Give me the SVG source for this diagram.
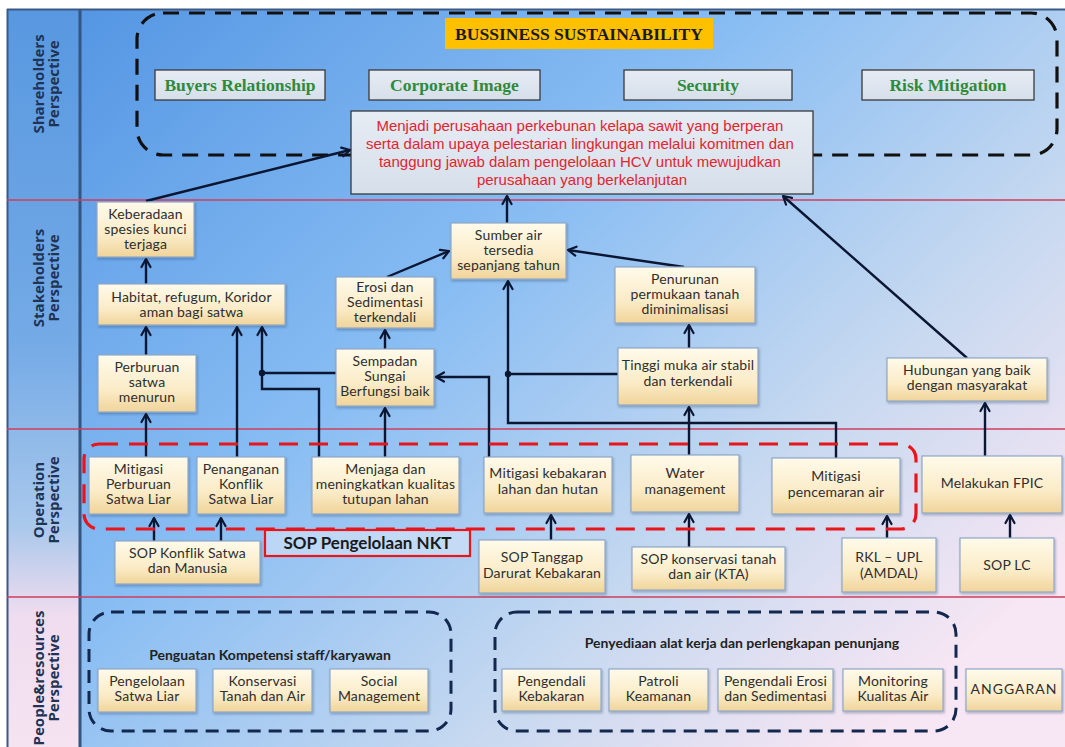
<svg xmlns="http://www.w3.org/2000/svg" width="1065" height="747" viewBox="0 0 1065 747">
<defs>
<linearGradient id="bg" x1="0" y1="0" x2="1" y2="0.75">
<stop offset="0" stop-color="#4f92e2"/>
<stop offset="0.45" stop-color="#88bdf3"/>
<stop offset="0.75" stop-color="#c5d8f0"/>
<stop offset="1" stop-color="#f7e6f3"/>
</linearGradient>
<linearGradient id="lab" x1="0" y1="0" x2="0" y2="1">
<stop offset="0" stop-color="#5898e0"/>
<stop offset="0.45" stop-color="#74aae6"/>
<stop offset="0.7" stop-color="#a9c8ec"/>
<stop offset="0.82" stop-color="#efdcef"/>
<stop offset="1" stop-color="#f5e3f1"/>
</linearGradient>
<linearGradient id="cream" x1="0" y1="0" x2="0" y2="1">
<stop offset="0" stop-color="#fffaea"/>
<stop offset="0.6" stop-color="#fbecc8"/>
<stop offset="1" stop-color="#f0d49a"/>
</linearGradient>
<linearGradient id="grey" x1="0" y1="0" x2="0" y2="1">
<stop offset="0" stop-color="#e6ecf4"/>
<stop offset="1" stop-color="#d6dfea"/>
</linearGradient>
<filter id="sh" x="-10%" y="-10%" width="130%" height="140%">
<feDropShadow dx="1" dy="1.5" stdDeviation="1.2" flood-color="#203050" flood-opacity="0.35"/>
</filter>
<marker id="ar" markerWidth="12" markerHeight="12" refX="9" refY="5" orient="auto" markerUnits="userSpaceOnUse" viewBox="0 0 12 12" overflow="visible">
<path d="M1,0.5 L9,5 L1,9.5" fill="none" stroke="#0b1633" stroke-width="2.2" stroke-linecap="round" stroke-linejoin="round"/>
</marker>
<style>
.rowlab{font-family:"Open Sans","DejaVu Sans",sans-serif;font-weight:bold;font-size:15px;fill:#1f3355;text-anchor:middle}
.node rect{fill:url(#cream);stroke:#8fa8c8;stroke-width:1.2;filter:url(#sh)}
.node text{font-family:Lato,"Open Sans",sans-serif;font-size:14px;letter-spacing:0.15px;fill:#2e2e2e;text-anchor:middle}
.gbox rect{fill:url(#grey);stroke:#3a3a3a;stroke-width:1.3}
.gbox text{font-family:"Liberation Serif","DejaVu Serif",serif;font-weight:bold;font-size:17.5px;fill:#2f8a3a;text-anchor:middle}
.conn path{fill:none;stroke:#0b1633;stroke-width:2.4;stroke-linejoin:miter}
.arr{marker-end:url(#ar)}
.sep{stroke:#cf3e5e;stroke-width:1.6}
.glab{font-family:Lato,"Open Sans",sans-serif;font-size:14px;font-weight:bold;fill:#222;text-anchor:middle}
.bdash{fill:none;stroke:#13284f;stroke-width:3;stroke-dasharray:13 8}
</style>
</defs>

<rect x="0" y="0" width="1065" height="747" fill="#ffffff"/>
<rect x="7" y="9" width="1058" height="738" fill="url(#bg)"/>
<rect x="7" y="9" width="73" height="738" fill="url(#lab)"/>
<line x1="7" y1="9.5" x2="1065" y2="9.5" stroke="#3a5a85" stroke-width="2"/>
<line x1="7.5" y1="9" x2="7.5" y2="747" stroke="#3a5a85" stroke-width="2"/>
<line x1="80" y1="9" x2="80" y2="747" stroke="#34557f" stroke-width="3"/>
<line class="sep" x1="7" y1="200" x2="1065" y2="200"/>
<line class="sep" x1="7" y1="429" x2="1065" y2="429"/>
<line class="sep" x1="7" y1="597" x2="1065" y2="597"/>

<g id="row-labels">
<text class="rowlab" transform="translate(44,84) rotate(-90)">Shareholders</text>
<text class="rowlab" transform="translate(59,84) rotate(-90)">Perspective</text>
<text class="rowlab" transform="translate(44,278) rotate(-90)">Stakeholders</text>
<text class="rowlab" transform="translate(59,278) rotate(-90)">Perspective</text>
<text class="rowlab" transform="translate(44,500) rotate(-90)">Operation</text>
<text class="rowlab" transform="translate(59,500) rotate(-90)">Perspective</text>
<text class="rowlab" transform="translate(44,678) rotate(-90)">People&amp;resources</text>
<text class="rowlab" transform="translate(59,678) rotate(-90)">Perspective</text>
</g>

<g id="group-sustainability">
<rect x="137" y="13" width="920" height="142" rx="26" fill="none" stroke="#111" stroke-width="3.2" stroke-dasharray="16 10"/>
<rect x="445" y="18" width="268" height="31" fill="#ffc000"/>
<text x="579" y="40" font-family="Liberation Serif,DejaVu Serif,serif" font-weight="bold" font-size="17" fill="#1a1a1a" text-anchor="middle" textLength="248" lengthAdjust="spacingAndGlyphs">BUSSINESS SUSTAINABILITY</text>
</g>

<g id="n-buyers" class="gbox"><rect x="155" y="70" width="170" height="30"/><text x="240" y="91">Buyers Relationship</text></g>
<g id="n-corporate" class="gbox"><rect x="369" y="70" width="171" height="30"/><text x="454.5" y="91">Corporate Image</text></g>
<g id="n-security" class="gbox"><rect x="624" y="70" width="168" height="30"/><text x="708" y="91">Security</text></g>
<g id="n-risk" class="gbox"><rect x="862" y="70" width="172" height="30"/><text x="948" y="91">Risk Mitigation</text></g>

<g id="n-mission">
<rect x="351" y="111" width="462" height="83" fill="url(#grey)" stroke="#3a3a3a" stroke-width="1.3"/>
<text font-family="Liberation Sans,Arial,sans-serif" font-size="15" fill="#e3242f" text-anchor="middle">
<tspan x="582" y="131">Menjadi perusahaan perkebunan kelapa sawit yang berperan</tspan>
<tspan x="582" y="149">serta dalam upaya pelestarian lingkungan melalui komitmen dan</tspan>
<tspan x="582" y="167">tanggung jawab dalam pengelolaan HCV untuk mewujudkan</tspan>
<tspan x="582" y="185">perusahaan yang berkelanjutan</tspan>
</text>
</g>

<g id="connectors" class="conn">
<path class="arr" d="M146,201 L350,150"/>
<path class="arr" d="M507,223 L507,196"/>
<path class="arr" d="M967,358 L783,196"/>
<path class="arr" d="M146,284 L146,259"/>
<path class="arr" d="M146,355 L146,327"/>
<path class="arr" d="M146,457 L146,414"/>
<path class="arr" d="M237,457 L237,327"/>
<path class="arr" d="M319,457 L319,389 L262,389 L262,327"/>
<path d="M336,373 L262,373"/>
<path class="arr" d="M385,457 L385,408"/>
<path class="arr" d="M385,349 L385,330"/>
<path class="arr" d="M387,277 L449,251"/>
<path class="arr" d="M489,457 L489,377 L436,377"/>
<path class="arr" d="M836,458 L836,423 L508,423 L508,281"/>
<path d="M618,374 L508,374"/>
<path class="arr" d="M689,455 L689,407"/>
<path class="arr" d="M689,348 L689,325"/>
<path class="arr" d="M684,267 L568,250"/>
<path class="arr" d="M985,456 L985,403"/>
<path class="arr" d="M154,541 L154,518"/>
<path class="arr" d="M221,541 L221,518"/>
<path class="arr" d="M551,540 L551,515"/>
<path class="arr" d="M689,547 L689,514"/>
<path class="arr" d="M887,538 L887,516"/>
<path class="arr" d="M1010,538 L1010,515"/>
<circle cx="262" cy="373" r="3.2" fill="#0b1633"/>
<circle cx="508" cy="374" r="3.2" fill="#0b1633"/>
</g>

<g id="n-keberadaan" class="node"><rect x="97" y="202" width="97" height="55"/><text><tspan x="145.5" y="219">Keberadaan</tspan><tspan x="145.5" y="234">spesies kunci</tspan><tspan x="145.5" y="249">terjaga</tspan></text></g>
<g id="n-habitat" class="node"><rect x="98" y="284" width="187" height="41"/><text><tspan x="191.5" y="302">Habitat, refugum, Koridor</tspan><tspan x="191.5" y="317">aman bagi satwa</tspan></text></g>
<g id="n-perburuan" class="node"><rect x="98" y="355" width="98" height="57"/><text><tspan x="147" y="372">Perburuan</tspan><tspan x="147" y="387">satwa</tspan><tspan x="147" y="402">menurun</tspan></text></g>
<g id="n-erosi" class="node"><rect x="336" y="277" width="98" height="51"/><text><tspan x="385" y="292">Erosi dan</tspan><tspan x="385" y="307">Sedimentasi</tspan><tspan x="385" y="322">terkendali</tspan></text></g>
<g id="n-sempadan" class="node"><rect x="336" y="349" width="98" height="57"/><text><tspan x="385" y="366">Sempadan</tspan><tspan x="385" y="381">Sungai</tspan><tspan x="385" y="396">Berfungsi baik</tspan></text></g>
<g id="n-sumber" class="node"><rect x="451" y="223" width="115" height="56"/><text><tspan x="508.5" y="240">Sumber air</tspan><tspan x="508.5" y="255">tersedia</tspan><tspan x="508.5" y="270">sepanjang tahun</tspan></text></g>
<g id="n-penurunan" class="node"><rect x="615" y="267" width="140" height="56"/><text><tspan x="685" y="284">Penurunan</tspan><tspan x="685" y="299">permukaan tanah</tspan><tspan x="685" y="314">diminimalisasi</tspan></text></g>
<g id="n-tinggi" class="node"><rect x="618" y="348" width="140" height="57"/><text><tspan x="688" y="370">Tinggi muka air stabil</tspan><tspan x="688" y="386">dan terkendali</tspan></text></g>
<g id="n-hubungan" class="node"><rect x="887" y="358" width="160" height="43"/><text><tspan x="967" y="375">Hubungan yang baik</tspan><tspan x="967" y="390">dengan masyarakat</tspan></text></g>

<g id="group-sop-nkt">
<rect x="84" y="444" width="832" height="85" rx="15" fill="none" stroke="#e8151b" stroke-width="3.2" stroke-dasharray="19 11"/>
<rect x="265" y="530" width="205" height="26" fill="#dbe8f8" fill-opacity="0.55" stroke="#e8151b" stroke-width="2.2"/>
<text x="367.5" y="548.5" font-family="Lato,Open Sans,sans-serif" font-weight="bold" font-size="17" fill="#1a1a1a" text-anchor="middle">SOP Pengelolaan NKT</text>
</g>

<g id="n-mitigasi-perburuan" class="node"><rect x="89" y="457" width="99" height="57"/><text><tspan x="138.5" y="474">Mitigasi</tspan><tspan x="138.5" y="489">Perburuan</tspan><tspan x="138.5" y="504">Satwa Liar</tspan></text></g>
<g id="n-penanganan" class="node"><rect x="197" y="457" width="88" height="57"/><text><tspan x="241" y="474">Penanganan</tspan><tspan x="241" y="489">Konflik</tspan><tspan x="241" y="504">Satwa Liar</tspan></text></g>
<g id="n-menjaga" class="node"><rect x="312" y="457" width="147" height="57"/><text><tspan x="385.5" y="474">Menjaga dan</tspan><tspan x="385.5" y="489">meningkatkan kualitas</tspan><tspan x="385.5" y="504">tutupan lahan</tspan></text></g>
<g id="n-mitigasi-kebakaran" class="node"><rect x="484" y="457" width="128" height="56"/><text><tspan x="548" y="478">Mitigasi kebakaran</tspan><tspan x="548" y="494">lahan dan hutan</tspan></text></g>
<g id="n-water" class="node"><rect x="631" y="455" width="108" height="57"/><text><tspan x="685" y="478">Water</tspan><tspan x="685" y="494">management</tspan></text></g>
<g id="n-mitigasi-pencemaran" class="node"><rect x="772" y="458" width="128" height="56"/><text><tspan x="836" y="481">Mitigasi</tspan><tspan x="836" y="497">pencemaran air</tspan></text></g>
<g id="n-fpic" class="node"><rect x="922" y="456" width="140" height="57"/><text><tspan x="992" y="488">Melakukan FPIC</tspan></text></g>

<g id="n-sop-konflik" class="node"><rect x="115" y="541" width="145" height="43"/><text><tspan x="187.5" y="558">SOP Konflik Satwa</tspan><tspan x="187.5" y="573">dan Manusia</tspan></text></g>
<g id="n-sop-tanggap" class="node"><rect x="479" y="540" width="126" height="53"/><text><tspan x="542" y="562">SOP Tanggap</tspan><tspan x="542" y="578">Darurat Kebakaran</tspan></text></g>
<g id="n-sop-kta" class="node"><rect x="632" y="547" width="153" height="43"/><text><tspan x="708.5" y="564">SOP konservasi tanah</tspan><tspan x="708.5" y="579">dan air (KTA)</tspan></text></g>
<g id="n-rkl" class="node"><rect x="842" y="538" width="94" height="54"/><text><tspan x="889" y="562">RKL – UPL</tspan><tspan x="889" y="578">(AMDAL)</tspan></text></g>
<g id="n-sop-lc" class="node"><rect x="960" y="538" width="94" height="54"/><text><tspan x="1007" y="570">SOP LC</tspan></text></g>

<g id="group-kompetensi">
<rect class="bdash" x="89" y="612" width="362" height="119" rx="22"/>
<text class="glab" x="270" y="660">Penguatan Kompetensi staff/karyawan</text>
</g>
<g id="n-pengelolaan-satwa" class="node"><rect x="98" y="669" width="98" height="43"/><text><tspan x="147" y="686">Pengelolaan</tspan><tspan x="147" y="701">Satwa Liar</tspan></text></g>
<g id="n-konservasi" class="node"><rect x="213" y="669" width="99" height="43"/><text><tspan x="262.5" y="686">Konservasi</tspan><tspan x="262.5" y="701">Tanah dan Air</tspan></text></g>
<g id="n-social" class="node"><rect x="330" y="669" width="98" height="43"/><text><tspan x="379" y="686">Social</tspan><tspan x="379" y="701">Management</tspan></text></g>

<g id="group-penyediaan">
<rect class="bdash" x="495" y="612" width="461" height="119" rx="22"/>
<text class="glab" x="742" y="648">Penyediaan alat kerja dan  perlengkapan penunjang</text>
</g>
<g id="n-pengendali-kebakaran" class="node"><rect x="502" y="669" width="99" height="42"/><text><tspan x="551.5" y="686">Pengendali</tspan><tspan x="551.5" y="701">Kebakaran</tspan></text></g>
<g id="n-patroli" class="node"><rect x="609" y="669" width="99" height="42"/><text><tspan x="658.5" y="686">Patroli</tspan><tspan x="658.5" y="701">Keamanan</tspan></text></g>
<g id="n-pengendali-erosi" class="node"><rect x="718" y="669" width="115" height="42"/><text><tspan x="775.5" y="686">Pengendali Erosi</tspan><tspan x="775.5" y="701">dan Sedimentasi</tspan></text></g>
<g id="n-monitoring" class="node"><rect x="843" y="669" width="100" height="42"/><text><tspan x="893" y="686">Monitoring</tspan><tspan x="893" y="701">Kualitas Air</tspan></text></g>
<g id="n-anggaran" class="node"><rect x="966" y="669" width="96" height="42"/><text><tspan x="1014" y="694" letter-spacing="1">ANGGARAN</tspan></text></g>
</svg>
